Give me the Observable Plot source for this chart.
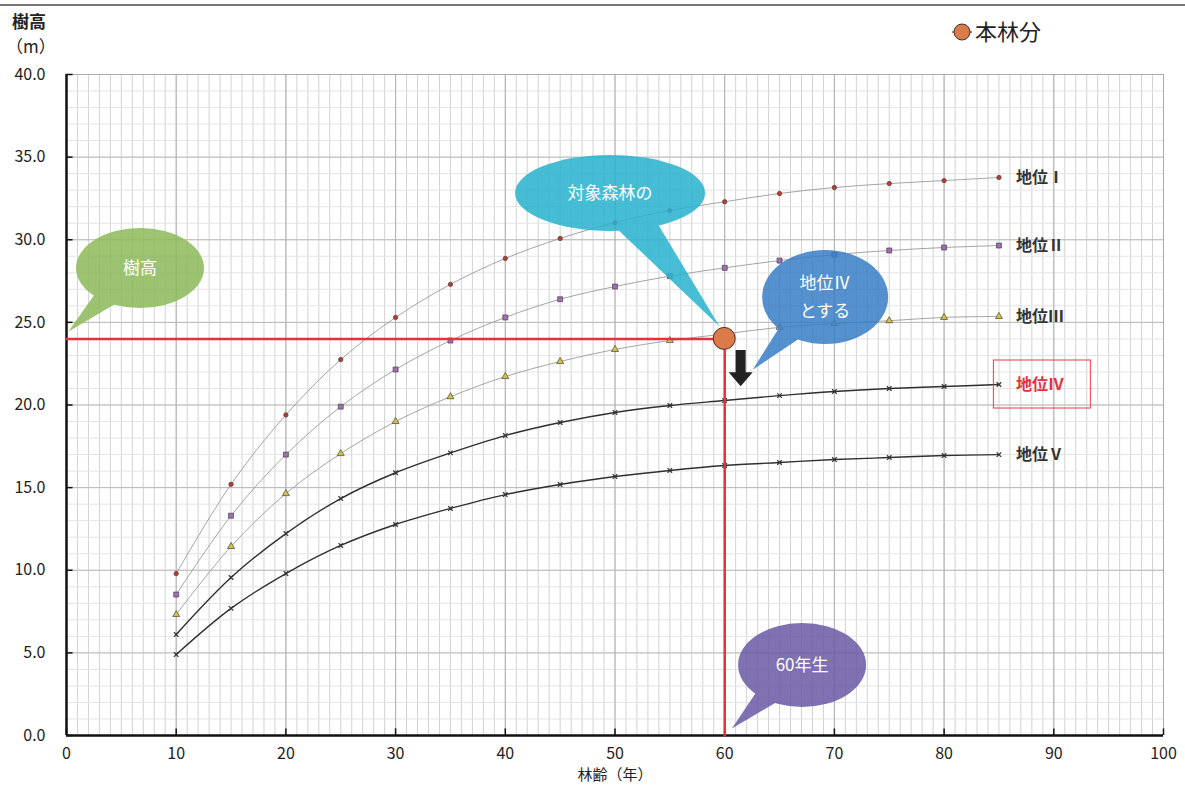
<!DOCTYPE html>
<html><head><meta charset="utf-8">
<script src="https://cdn.jsdelivr.net/npm/d3@7"></script>
<script src="https://cdn.jsdelivr.net/npm/@observablehq/plot@0.6"></script>
<style>
body{margin:0;background:#fff;}
svg{display:block;}
</style></head>
<body>
<div id="chart"></div>
<script>
// ---- data ----
const ages = [10,15,20,25,30,35,40,45,50,55,60,65,70,75,80,85];
const siteI   = [9.8,15.2,19.4,22.75,25.3,27.3,28.87,30.08,31.04,31.77,32.3,32.8,33.16,33.4,33.58,33.77];
const siteII  = [8.53,13.3,17.0,19.9,22.15,23.9,25.3,26.4,27.17,27.8,28.3,28.74,29.1,29.35,29.53,29.65];
const siteIII = [7.32,11.44,14.64,17.06,19.0,20.5,21.72,22.63,23.36,23.9,24.3,24.7,24.93,25.1,25.3,25.36];
const siteIV  = [6.11,9.56,12.22,14.34,15.9,17.1,18.15,18.94,19.55,19.97,20.27,20.57,20.82,21.0,21.12,21.24];
const siteV   = [4.9,7.69,9.8,11.5,12.77,13.74,14.58,15.19,15.67,16.04,16.34,16.52,16.7,16.82,16.94,17.0];
const siteNames = ["地位Ⅰ","地位Ⅱ","地位Ⅲ","地位Ⅳ","地位Ⅴ"];
const xTicks = [0,10,20,30,40,50,60,70,80,90,100];
const yTicks = [0,5,10,15,20,25,30,35,40];
const standAge = 60, standHeight = 24.0;   // 本林分
const legendLabel = "本林分";
const xTitle = "林齢（年）";
const yTitle1 = "樹高", yTitle2 = "（m）";
// callouts: text lines, centre (data), tip (data)
const callouts = [
  {lines:["樹高"], cx:6.75, cy:28.26, rx:64, ry:40, tx:0.2, ty:24.4, color:"#8cba5a"},
  {lines:["対象森林の"], cx:49.6, cy:32.8, rx:95, ry:38, tx:59.6, ty:24.7, color:"#29b3cf"},
  {lines:["地位Ⅳ","とする"], cx:69.2, cy:26.5, rx:63, ry:47, tx:62.6, ty:22.1, color:"#3a7fc6"},
  {lines:["60年生"], cx:67.1, cy:4.24, rx:64, ry:42, tx:60.7, ty:0.4, color:"#6b5aa6"}
];
const arrow = {x:61.5, yTop:23.3, yTip:21.1};

const series = [siteI, siteII, siteIII, siteIV, siteV];
const rows = series.map((vals,i)=>ages.map((a,j)=>({age:a, h:vals[j], site:siteNames[i]})));
const lastPts = series.map((vals,i)=>({age:ages[ages.length-1], h:vals[vals.length-1], site:siteNames[i]}));

const font = "'Noto Sans CJK JP','Noto Sans',sans-serif";
const minorX = d3.range(0,101,1), majorX = d3.range(0,101,10);
const minorY = d3.range(0,40.01,1), majorY = d3.range(0,40.01,5);

const lineStyle = [
  {stroke:"#9a9a9a", w:0.9, sym:"circle", r:2.2, fill:"#c0392b"},
  {stroke:"#9a9a9a", w:0.9, sym:"square", r:2.8, fill:"#a46bb8"},
  {stroke:"#9a9a9a", w:0.9, sym:"triangle", r:2.6, fill:"#d8c040"},
  {stroke:"#2f2f2f", w:1.4, sym:"times", r:2.2, fill:"none"},
  {stroke:"#2f2f2f", w:1.4, sym:"times", r:2.2, fill:"none"}
];

const marks = [
  Plot.ruleX(minorX, {stroke:"#d2d2d2", strokeWidth:1}),
  Plot.ruleY(minorY, {stroke:"#e4e4e4", strokeWidth:1}),
  Plot.ruleY(majorY, {stroke:"#b8b8b8", strokeWidth:1}),
  Plot.ruleX(majorX, {stroke:"#b0b0b0", strokeWidth:1}),
  Plot.ruleX([100], {stroke:"#aaa"}),
  Plot.ruleY([40], {stroke:"#aaa"}),
  Plot.axisX({ticks:xTicks, tickSize:0, tickPadding:12, tickFormat:d3.format("d"), fontSize:16, fill:"#222", label:null}),
  Plot.axisY({ticks:yTicks, tickSize:0, tickPadding:21, tickFormat:d3.format(".1f"), fontSize:16, fill:"#222", label:null})
];
rows.forEach((r,i)=>{
  const s = lineStyle[i];
  marks.push(Plot.line(r, {x:"age", y:"h", stroke:s.stroke, strokeWidth:s.w, curve:"catmull-rom"}));
});
rows.forEach((r,i)=>{
  const s = lineStyle[i];
  if (s.fill === "none")
    marks.push(Plot.dot(r, {x:"age", y:"h", symbol:s.sym, r:s.r, stroke:"#333", strokeWidth:1.2}));
  else
    marks.push(Plot.dot(r, {x:"age", y:"h", symbol:s.sym, r:s.r, fill:s.fill, stroke:"#444", strokeWidth:0.7}));
});
marks.push(
  Plot.ruleX([0], {stroke:"#111", strokeWidth:2.5}),
  Plot.ruleY([0], {stroke:"#111", strokeWidth:2.5}),
  Plot.ruleY(majorY, {x1:0, x2:0.6, stroke:"#111", strokeWidth:1.5}),
  Plot.ruleX(majorX, {y1:0, y2:0.4, stroke:"#111", strokeWidth:1.5}),
  Plot.text(lastPts, {x:"age", y:"h", text:"site", dx:17, textAnchor:"start", fontSize:16, fontWeight:"bold",
    fill:d=>d.site==="地位Ⅳ"?"#e8303a":"#333", fontFamily:font}),
  Plot.text([xTitle], {x:50, frameAnchor:"bottom", dy:44, text:d=>d, fontSize:15, fill:"#222", fontFamily:font}),
  Plot.line([[0,standHeight],[standAge,standHeight],[standAge,0]], {stroke:"#e8303a", strokeWidth:2.5})
);

const plot = Plot.plot({
  width:1185, height:789,
  marginLeft:66, marginRight:22, marginTop:74, marginBottom:54,
  style:{fontFamily:font, background:"#fff", color:"#222"},
  x:{domain:[0,100]},
  y:{domain:[0,40]},
  marks
});

const sx = plot.scale("x"), sy = plot.scale("y");
const X = v=>sx.apply(v), Y = v=>sy.apply(v);
const svg = d3.select(plot);

// callouts
callouts.forEach(c=>{
  const cx=X(c.cx), cy=Y(c.cy), tx=X(c.tx), ty=Y(c.ty);
  const ang = Math.atan2((ty-cy)/c.ry, (tx-cx)/c.rx);
  const spread = 0.3;
  const p1=[cx+c.rx*0.8*Math.cos(ang-spread), cy+c.ry*0.8*Math.sin(ang-spread)];
  const p2=[cx+c.rx*0.8*Math.cos(ang+spread), cy+c.ry*0.8*Math.sin(ang+spread)];
  const g = svg.append("g").attr("opacity",0.86);
  g.append("ellipse").attr("cx",cx).attr("cy",cy).attr("rx",c.rx).attr("ry",c.ry).attr("fill",c.color);
  g.append("path").attr("d",`M${p1[0]},${p1[1]}L${tx},${ty}L${p2[0]},${p2[1]}Z`).attr("fill",c.color);
  const n=c.lines.length;
  c.lines.forEach((t,i)=>{
    svg.append("text").attr("x",cx).attr("y",cy+(i-(n-1)/2)*28).attr("dy","0.35em")
      .attr("text-anchor","middle").attr("fill","#fff").attr("font-size",17).attr("font-family",font).text(t);
  });
});

// stand point
svg.append("circle").attr("cx",X(standAge)).attr("cy",Y(standHeight)).attr("r",11)
  .attr("fill","#dc7b4a").attr("stroke","#4a3020").attr("stroke-width",1);

// arrow
{
  const ax=X(arrow.x), y0=Y(arrow.yTop), y1=Y(arrow.yTip);
  const hw=12, sw=5, hh=14;
  svg.append("path").attr("fill","#222")
    .attr("d",`M${ax-sw},${y0}L${ax+sw},${y0}L${ax+sw},${y1-hh}L${ax+hw},${y1-hh}L${ax},${y1}L${ax-hw},${y1-hh}L${ax-sw},${y1-hh}Z`);
}

// red box around 地位Ⅳ
{
  const lx=X(ages[ages.length-1]), ly=Y(siteIV[siteIV.length-1]);
  svg.append("rect").attr("x",lx-5).attr("y",ly-24).attr("width",97).attr("height",48)
    .attr("fill","none").attr("stroke","#e8303a").attr("stroke-width",1.2).attr("opacity",0.8);
}

// top border
svg.append("line").attr("x1",0).attr("x2",1185).attr("y1",5).attr("y2",5).attr("stroke","#777").attr("stroke-width",2);
// y title
svg.append("text").attr("x",12).attr("y",28).attr("text-anchor","start").attr("font-size",17).attr("font-weight","bold").attr("fill","#222").attr("font-family",font).text(yTitle1);
svg.append("text").attr("x",6).attr("y",53).attr("text-anchor","start").attr("font-size",17).attr("fill","#222").attr("font-family",font).text(yTitle2);
// legend
svg.append("line").attr("x1",952).attr("x2",972).attr("y1",32).attr("y2",32).attr("stroke","#dc7b4a").attr("stroke-width",2);
svg.append("circle").attr("cx",962).attr("cy",32).attr("r",8).attr("fill","#dc7b4a").attr("stroke","#333").attr("stroke-width",1);
svg.append("text").attr("x",975).attr("y",32).attr("dy","0.36em").attr("text-anchor","start").attr("font-size",22).attr("fill","#222").attr("font-family",font).text(legendLabel);

document.getElementById("chart").appendChild(plot);
</script>
</body></html>
